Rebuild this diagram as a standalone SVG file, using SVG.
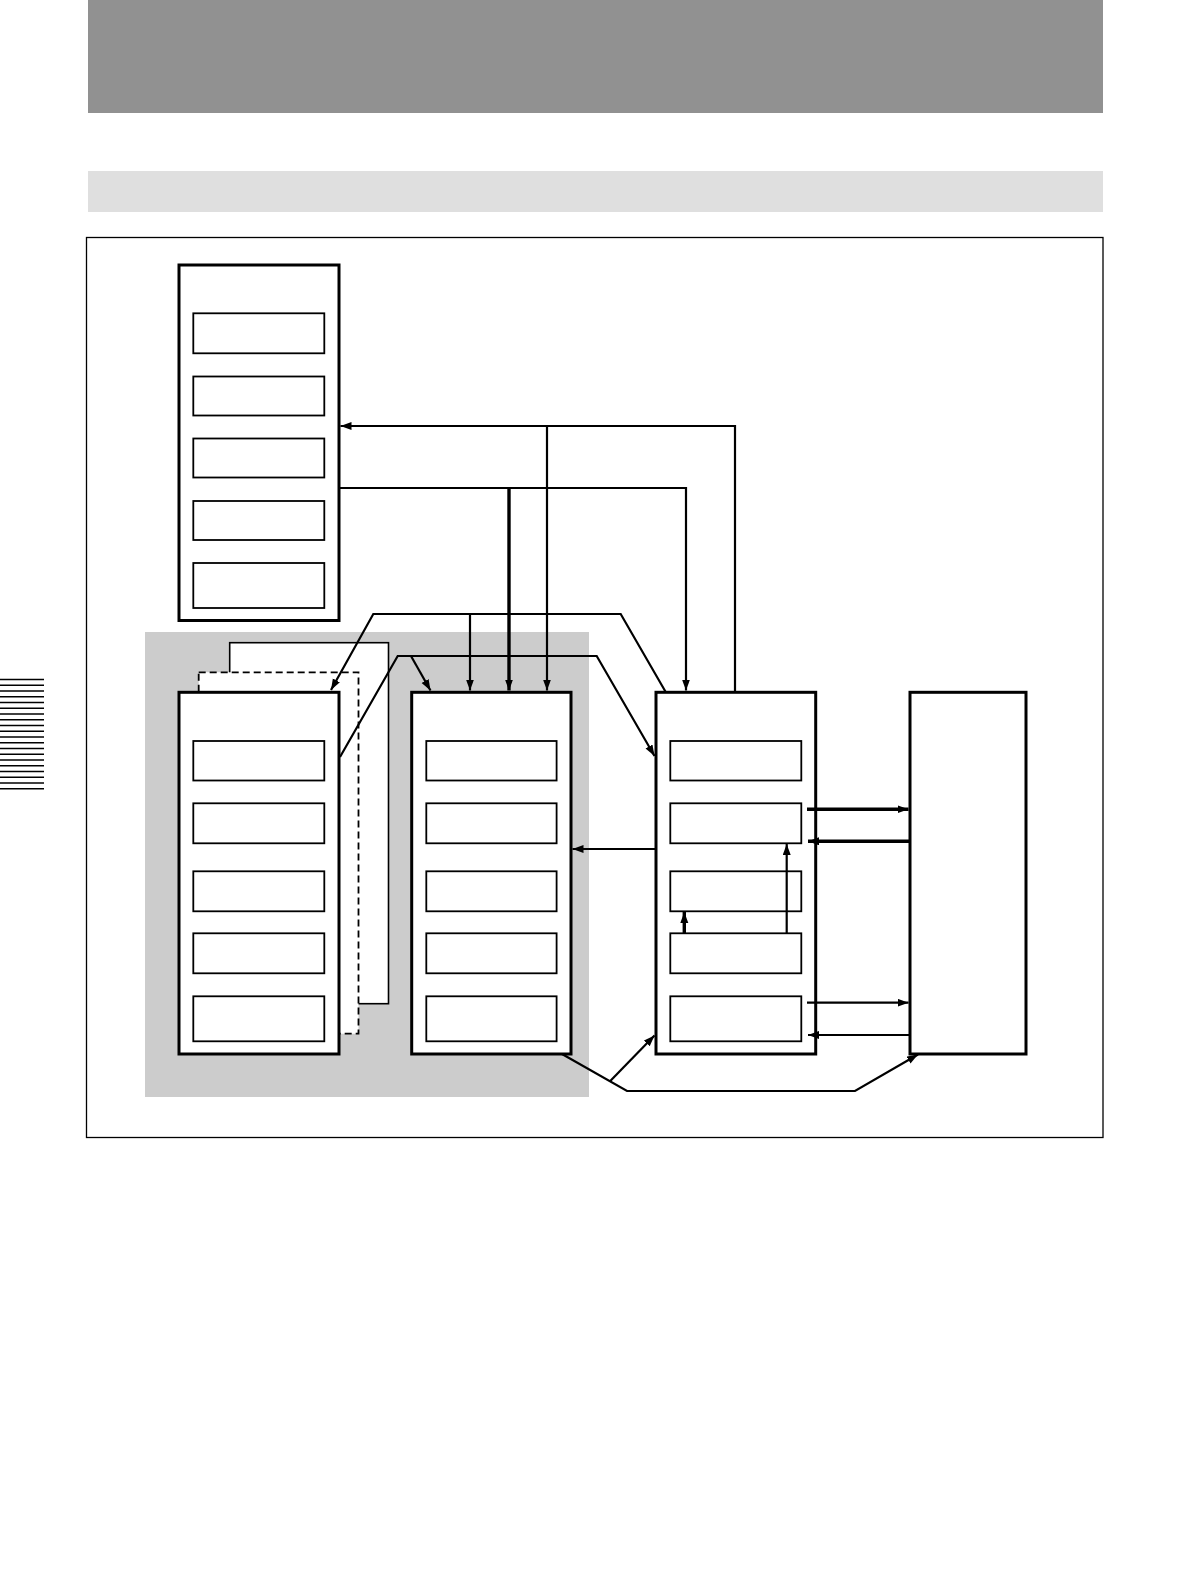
<svg xmlns="http://www.w3.org/2000/svg" width="1190" height="1588" viewBox="0 0 1190 1588">
  <defs>
    <marker id="arr" markerUnits="userSpaceOnUse" markerWidth="12" markerHeight="9" refX="11" refY="4" orient="auto">
      <path d="M0,0 L11,4 L0,8 z" fill="#000"/>
    </marker>
    <style>
      .outer { fill: #fff; stroke: #000; stroke-width: 3; }
      .inner { fill: #fff; stroke: #000; stroke-width: 1.8; }
      .conn { fill: none; stroke: #000; stroke-width: 2.2; stroke-linejoin: miter; }
      .thick { stroke-width: 3.4; }
      .arrow { marker-end: url(#arr); }
      .stripe { stroke: #000; stroke-width: 1.6; }
    </style>
  </defs>
  <rect width="1190" height="1588" fill="#fff"/>

  <g id="header">
    <rect x="88" y="0" width="1015" height="113" fill="#919191"/>
    <rect x="88" y="171" width="1015" height="41" fill="#dfdfdf"/>
  </g>

  <g id="margin-tab">
    <line class="stripe" x1="0" y1="679.5" x2="44" y2="679.5"/>
    <line class="stripe" x1="0" y1="685.3" x2="44" y2="685.3"/>
    <line class="stripe" x1="0" y1="691.0" x2="44" y2="691.0"/>
    <line class="stripe" x1="0" y1="696.8" x2="44" y2="696.8"/>
    <line class="stripe" x1="0" y1="702.5" x2="44" y2="702.5"/>
    <line class="stripe" x1="0" y1="708.3" x2="44" y2="708.3"/>
    <line class="stripe" x1="0" y1="714.0" x2="44" y2="714.0"/>
    <line class="stripe" x1="0" y1="719.8" x2="44" y2="719.8"/>
    <line class="stripe" x1="0" y1="725.5" x2="44" y2="725.5"/>
    <line class="stripe" x1="0" y1="731.3" x2="44" y2="731.3"/>
    <line class="stripe" x1="0" y1="737.0" x2="44" y2="737.0"/>
    <line class="stripe" x1="0" y1="742.8" x2="44" y2="742.8"/>
    <line class="stripe" x1="0" y1="748.5" x2="44" y2="748.5"/>
    <line class="stripe" x1="0" y1="754.3" x2="44" y2="754.3"/>
    <line class="stripe" x1="0" y1="760.0" x2="44" y2="760.0"/>
    <line class="stripe" x1="0" y1="765.8" x2="44" y2="765.8"/>
    <line class="stripe" x1="0" y1="771.5" x2="44" y2="771.5"/>
    <line class="stripe" x1="0" y1="777.3" x2="44" y2="777.3"/>
    <line class="stripe" x1="0" y1="783.0" x2="44" y2="783.0"/>
    <line class="stripe" x1="0" y1="788.8" x2="44" y2="788.8"/>
  </g>

  <g id="frame">
    <rect x="86.5" y="237.5" width="1016.5" height="900" fill="none" stroke="#000" stroke-width="1.3"/>
  </g>

  <g id="shaded-area">
    <rect x="145" y="632" width="444" height="465" fill="#cccccc"/>
  </g>

  <g id="node-a">
    <rect class="outer" x="179" y="265" width="160" height="355.5"/>
    <rect class="inner" x="193.3" y="313.3" width="131" height="40"/>
    <rect class="inner" x="193.3" y="376.5" width="131" height="39"/>
    <rect class="inner" x="193.3" y="438.5" width="131" height="39"/>
    <rect class="inner" x="193.3" y="501" width="131" height="39"/>
    <rect class="inner" x="193.3" y="563" width="131" height="45"/>
  </g>

  <g id="node-b-stack">
    <rect x="229.7" y="642.7" width="158.8" height="361" fill="#fff" stroke="#000" stroke-width="1.6"/>
    <rect x="198.7" y="672.3" width="159.8" height="361.4" fill="#fff" stroke="#000" stroke-width="1.8" stroke-dasharray="7,4"/>
  </g>

  <g id="node-b">
    <rect class="outer" x="179" y="692.3" width="160" height="361.7"/>
    <rect class="inner" x="193.3" y="741" width="131" height="39.5"/>
    <rect class="inner" x="193.3" y="803.3" width="131" height="40"/>
    <rect class="inner" x="193.3" y="871.3" width="131" height="40"/>
    <rect class="inner" x="193.3" y="933.3" width="131" height="40"/>
    <rect class="inner" x="193.3" y="996.3" width="131" height="45"/>
  </g>

  <g id="node-c">
    <rect class="outer" x="411.7" y="692.3" width="159.3" height="361.7"/>
    <rect class="inner" x="426.3" y="741" width="130.3" height="39.5"/>
    <rect class="inner" x="426.3" y="803.3" width="130.3" height="40"/>
    <rect class="inner" x="426.3" y="871.3" width="130.3" height="40"/>
    <rect class="inner" x="426.3" y="933.3" width="130.3" height="40"/>
    <rect class="inner" x="426.3" y="996.3" width="130.3" height="45"/>
  </g>

  <g id="node-d">
    <rect class="outer" x="656" y="692.3" width="159.7" height="361.7"/>
    <rect class="inner" x="670.3" y="741" width="131" height="39.5"/>
    <rect class="inner" x="670.3" y="803.3" width="131" height="40"/>
    <rect class="inner" x="670.3" y="871.3" width="131" height="40"/>
    <rect class="inner" x="670.3" y="933.3" width="131" height="40"/>
    <rect class="inner" x="670.3" y="996.3" width="131" height="45"/>
  </g>

  <g id="node-e">
    <rect class="outer" x="910" y="692.3" width="116" height="361.7"/>
  </g>

  <g id="connectors">
    <path class="conn arrow" d="M735,692 V426 H340.5"/>
    <path class="conn arrow" d="M547,426 V690.5"/>
    <path class="conn arrow" d="M339,488 H686 V690.5"/>
    <path class="conn thick arrow" d="M509,488 V690.5"/>
    <path class="conn arrow" d="M665.7,692 L620.7,614 H373.3 L331,690"/>
    <path class="conn arrow" d="M470,614 V690.5"/>
    <path class="conn arrow" d="M340,757 L397.7,656 H596.7 L654.5,756"/>
    <path class="conn arrow" d="M411,656 L430.5,690.5"/>
    <path class="conn arrow" d="M656,849 H572.5"/>
    <path class="conn thick arrow" d="M807,809.3 H908.5"/>
    <path class="conn thick arrow" d="M910,841.3 H808"/>
    <path class="conn arrow" d="M807,1002.7 H908.5"/>
    <path class="conn arrow" d="M910,1035 H808"/>
    <path class="conn thick arrow" d="M684.3,933.3 V912"/>
    <path class="conn arrow" d="M786.7,933.3 V844"/>
    <path class="conn arrow" d="M562,1054 L627,1091 H855 L918,1054.5"/>
    <path class="conn arrow" d="M610,1081.3 L654.5,1035.5"/>
  </g>
</svg>
